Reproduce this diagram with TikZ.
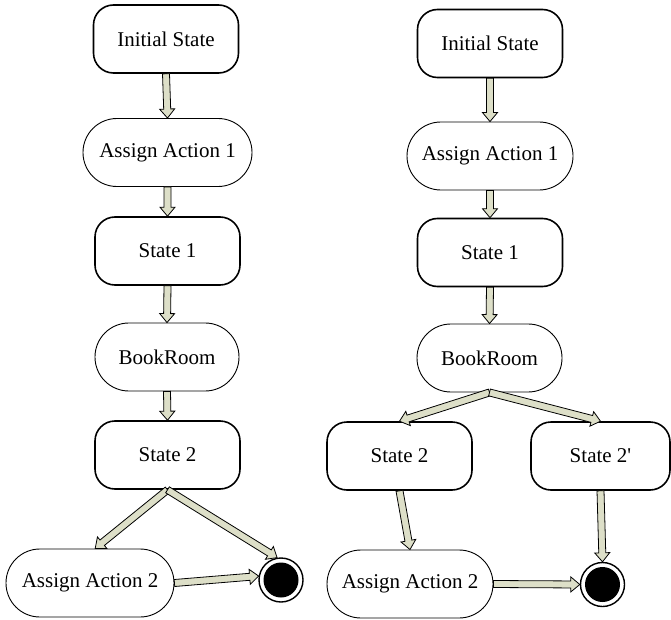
\documentclass[tikz,border=0pt]{standalone}
\usepackage{fontspec}
\setmainfont{Liberation Serif}
\usetikzlibrary{calc}
\definecolor{shaft}{RGB}{221,223,200}

\tikzset{
  label font/.style={font=\fontsize{21}{24}\selectfont},
  statebox/.style={draw, line width=1.6pt, rounded corners=20pt,
    minimum width=145pt, minimum height=68pt, inner sep=0pt, fill=white, label font},
  actionbox/.style={draw, line width=0.9pt, rounded corners=33.9pt,
    minimum height=68pt, inner sep=0pt, fill=white, label font},
  finalnode/.style={circle, draw, line width=1.4pt, minimum size=44pt,
    inner sep=0pt, fill=white},
  arrowbody/.style={draw=black, line width=0.8pt, fill=shaft, line join=miter},
}

% hollow block arrow from #1 to #2 (tip ends exactly at #2)
\newcommand\fatarrow[2]{%
  \path[arrowbody] let \p1=(#1), \p2=(#2),
      \n1={atan2(\y2-\y1,\x2-\x1)}, \n2={veclen(\x2-\x1,\y2-\y1)} in
    [shift={(\x1,\y1)}, rotate=\n1]
    (0pt,-3.5pt) -- ({\n2-9pt},-3.5pt) -- ({\n2-9pt},-7.5pt) -- ({\n2*1pt},0pt)
    -- ({\n2-9pt},7.5pt) -- ({\n2-9pt},3.5pt) -- (0pt,3.5pt) -- cycle;}

\begin{document}
\begin{tikzpicture}[x=1pt, y=-1pt]
  \useasboundingbox (0,0) rectangle (671,620);

  % left flow
  \node[statebox] (isl) at (166,39) {Initial State};
  \node[actionbox, minimum width=169pt] (a1l) at (167.5,152.5) {Assign Action 1};
  \node[statebox] (s1l) at (167.5,251) {State 1};
  \node[actionbox, minimum width=144pt] (brl) at (167,357) {BookRoom};
  \node[statebox] (s2l) at (167.5,455) {State 2};
  \node[actionbox, minimum width=168pt] (a2l) at (90,583) {Assign Action 2};
  \node[finalnode] (fl) at (281,580) {};
  \fill (fl.center) circle (17.5pt);

  % right flow
  \node[statebox] (isr) at (490,43.5) {Initial State};
  \node[actionbox, minimum width=166pt] (a1r) at (490,156) {Assign Action 1};
  \node[statebox] (s1r) at (490,252.5) {State 1};
  \node[actionbox, minimum width=145pt] (brr) at (489.5,358) {BookRoom};
  \node[statebox] (s2r) at (399.5,456) {State 2};
  \node[statebox, minimum width=139pt] (s2pr) at (600.5,456) {State 2\textquotesingle};
  \node[actionbox, minimum width=166pt] (a2r) at (410,584) {Assign Action 2};
  \node[finalnode] (fr) at (602.5,584.5) {};
  \fill (fr.center) circle (17.5pt);

  % left connectors
  \fatarrow{isl.south}{a1l.north}
  \fatarrow{a1l.south}{s1l.north}
  \fatarrow{s1l.south}{brl.north}
  \fatarrow{brl.south}{s2l.north}
  \fatarrow{s2l.south}{$(a2l.north)+(5,0)$}
  \fatarrow{s2l.south}{fl.100}
  \fatarrow{a2l.east}{fl.170}

  % right connectors
  \fatarrow{isr.south}{a1r.north}
  \fatarrow{a1r.south}{s1r.north}
  \fatarrow{s1r.south}{brr.north}
  \fatarrow{brr.south}{s2r.north}
  \fatarrow{brr.south}{s2pr.north}
  \fatarrow{s2r.south}{a2r.north}
  \fatarrow{s2pr.south}{fr.north}
  \fatarrow{a2r.east}{fr.west}
\end{tikzpicture}
\end{document}
